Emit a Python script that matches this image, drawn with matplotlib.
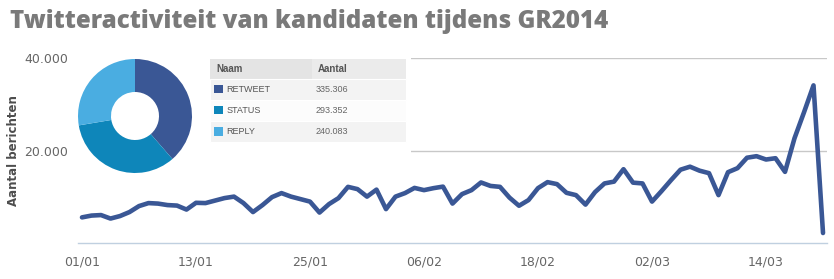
import numpy as np
import pandas as pd
import matplotlib
matplotlib.use("Agg")
import matplotlib.pyplot as plt
from matplotlib.patches import Rectangle

# ---------------- data ----------------
start_date = "2014-01-01"
daily_messages = [
    5540, 5930, 6040, 5285, 5825, 6690, 7980, 8630, 8520, 8200,
    8090, 7230, 8690, 8630, 9170, 9710, 10030, 8630, 6690, 8200,
    9920, 10790, 10030, 9490, 8950, 6580, 8410, 9710, 12140, 11650,
    10030, 11540, 7330, 10030, 10790, 11910, 11430, 11860, 12190, 8520,
    10570, 11430, 13090, 12340, 12140, 9810, 8050, 9280, 11860, 13160,
    12730, 10850, 10350, 8300, 11000, 12880, 13270, 15960, 13050, 12880,
    8950, 11220, 13590, 15850, 16500, 15640, 15100, 10350, 15310, 16180,
    18440, 18770, 18050, 18330, 15380, 22650, 28260, 34080, 2160,
]
x_tick_labels = ["01/01", "13/01", "25/01", "06/02", "18/02", "02/03", "14/03"]
y_ticks = [20000, 40000]
y_tick_labels = ["20.000", "40.000"]

categories = ["RETWEET", "STATUS", "REPLY"]
category_counts = [335306, 293352, 240083]
category_labels = ["335.306", "293.352", "240.083"]
category_colors = ["#3A5795", "#0E86BA", "#4AADE1"]

title = "Twitteractiviteit van kandidaten tijdens GR2014"
y_label = "Aantal berichten"
table_headers = ["Naam", "Aantal"]

# ---------------- figure ----------------
W, H = 834, 279
fig = plt.figure(figsize=(W / 100, H / 100), dpi=100)
fig.patch.set_facecolor("white")

def fx(px):
    return px / W

def fy(py):
    return 1 - py / H

# main axes
ax_left, ax_right, ax_top, ax_bottom = 78, 827, 58, 243
ax = fig.add_axes([fx(ax_left), fy(ax_bottom), fx(ax_right - ax_left), (ax_bottom - ax_top) / H])

days = np.arange(len(daily_messages))
ax.plot(days, daily_messages, color="#3A5795", lw=3.3,
        solid_joinstyle="round", solid_capstyle="round", zorder=3, clip_on=False)

start = pd.Timestamp(start_date)
tick_pos = [(pd.to_datetime(lbl + "/2014", format="%d/%m/%Y") - start).days for lbl in x_tick_labels]
ax.set_xticks(tick_pos)
ax.set_xticklabels(x_tick_labels)
ax.set_yticks(y_ticks)
ax.set_yticklabels(y_tick_labels)
ax.set_ylim(0, 40000)
ax.set_xlim(-0.42, 78.42)

ax.tick_params(axis="both", length=0, labelsize=9, labelcolor="#666666")
ax.tick_params(axis="x", pad=9)
ax.tick_params(axis="y", pad=7)
ax.grid(axis="y", color="#C8C8C8", lw=1.0, zorder=0)
for s in ["top", "right", "left"]:
    ax.spines[s].set_visible(False)
ax.spines["bottom"].set_color("#C0D0E0")
ax.spines["bottom"].set_linewidth(1.0)

ax.set_ylabel(y_label, fontsize=8.5, fontweight="bold", color="#4D4D4D")
ax.yaxis.set_label_coords((20 - ax_left) / (ax_right - ax_left), 0.5)

# title
fig.text(fx(10), fy(21), title, fontsize=17.4, fontweight=800, color="#7A7A7A",
         family=["Open Sans", "DejaVu Sans"], va="center", ha="left")

# ---------------- overlay panel (white box + table) ----------------
ov = fig.add_axes([0, 0, 1, 1], zorder=5)
ov.set_xlim(0, W)
ov.set_ylim(H, 0)
ov.axis("off")
ov.patch.set_visible(False)
ov.add_patch(Rectangle((76, 50), 335, 128, facecolor="white", edgecolor="none"))

tx0, tx1, tmid = 210, 406, 312
hdr_top, hdr_bot = 58.5, 78.5
row_h = 21.1
ov.add_patch(Rectangle((tx0, hdr_top), tmid - tx0, hdr_bot - hdr_top, facecolor="#E4E4E4", edgecolor="none"))
ov.add_patch(Rectangle((tmid, hdr_top), tx1 - tmid, hdr_bot - hdr_top, facecolor="#EBEBEB", edgecolor="none"))
tfont = ["Liberation Sans", "DejaVu Sans"]
ov.text(216, (hdr_top + hdr_bot) / 2, table_headers[0], fontsize=7, fontweight="bold",
        color="#555555", va="center", ha="left", family=tfont)
ov.text(318, (hdr_top + hdr_bot) / 2, table_headers[1], fontsize=7, fontweight="bold",
        color="#555555", va="center", ha="left", family=tfont)
row_bgs = ["#F3F3F3", "#FCFCFC", "#F3F3F3"]
for i, (name, lab, col) in enumerate(zip(categories, category_labels, category_colors)):
    r0 = hdr_bot + i * row_h
    ov.add_patch(Rectangle((tx0, r0), tx1 - tx0, row_h, facecolor=row_bgs[i],
                           edgecolor="#FFFFFF", lw=0.8))
    cy = r0 + row_h / 2
    ov.add_patch(Rectangle((214.3, cy - 4.3), 8.6, 8.6, facecolor=col, edgecolor="none"))
    ov.text(226.5, cy, name, fontsize=6.5, color="#555555", va="center", ha="left", family=tfont)
    ov.text(316, cy, lab, fontsize=6.5, color="#666666", va="center", ha="left", family=tfont)

# ---------------- donut ----------------
cx, cy, R = 135, 116, 57
dax = fig.add_axes([fx(cx - R), fy(cy + R), fx(2 * R), 2 * R / H], zorder=6)
dax.pie(category_counts, colors=category_colors, startangle=90, counterclock=False,
        radius=1.0, wedgeprops=dict(width=1 - 24 / 57, edgecolor="none"))
dax.set_xlim(-1, 1)
dax.set_ylim(-1, 1)
dax.set_aspect("auto")
dax.axis("off")

fig.savefig("out.png", dpi=100, facecolor="white")
